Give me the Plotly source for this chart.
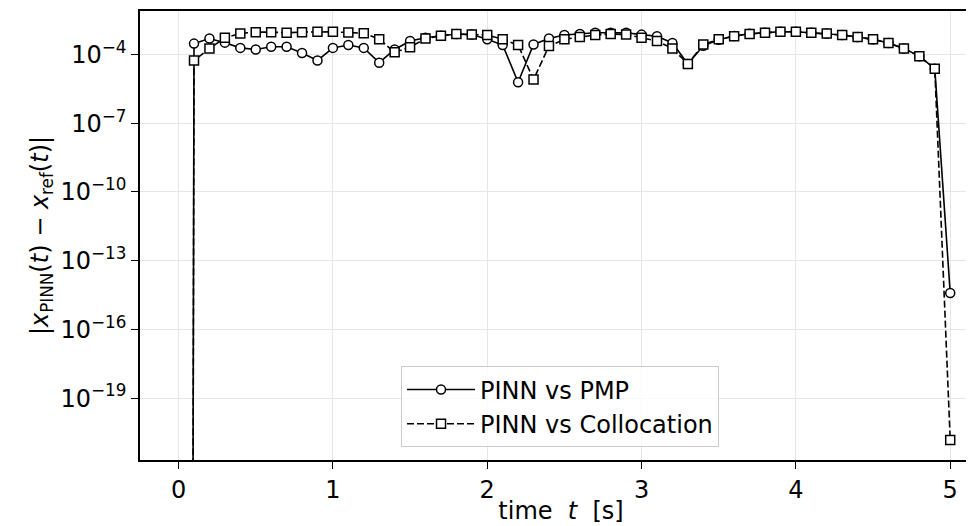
import numpy as np
import plotly.graph_objects as go

t = [round(0.1 * i, 1) for i in range(51)]

err_pmp = [0.0, 3.0e-4, 5.0e-4, 3.3e-4, 1.95e-4, 1.66e-4, 2.2e-4, 2.2e-4, 1.17e-4, 5.5e-5,
           1.95e-4, 2.6e-4, 1.95e-4, 4.4e-5, 1.66e-4, 3.9e-4, 5.4e-4, 6.6e-4, 7.9e-4, 7.4e-4,
           4.6e-4, 2.6e-4, 6.2e-6, 2.75e-4, 5.0e-4, 7.1e-4, 7.9e-4, 8.9e-4, 8.9e-4, 8.9e-4,
           7.4e-4, 6.3e-4, 3.2e-4, 3.9e-5, 2.4e-4, 4.4e-4, 6.4e-4, 8.0e-4, 9.0e-4, 9.8e-4,
           9.8e-4, 9.0e-4, 8.3e-4, 7.1e-4, 5.8e-4, 4.6e-4, 3.2e-4, 1.82e-4, 8.5e-5, 2.4e-5,
           3.9e-15]

err_col = [0.0, 5.5e-5, 1.82e-4, 5.4e-4, 8.3e-4, 9.5e-4, 9.5e-4, 8.9e-4, 9.5e-4, 9.8e-4,
           9.8e-4, 9.1e-4, 8.5e-4, 4.7e-4, 1.26e-4, 2.1e-4, 5.0e-4, 6.6e-4, 7.9e-4, 7.4e-4,
           7.1e-4, 4.6e-4, 2.6e-4, 8.1e-6, 2.35e-4, 4.6e-4, 5.75e-4, 7.1e-4, 7.9e-4, 7.4e-4,
           5.4e-4, 3.9e-4, 1.82e-4, 3.9e-5, 2.75e-4, 4.6e-4, 6.3e-4, 7.9e-4, 8.9e-4, 9.8e-4,
           9.8e-4, 8.9e-4, 8.3e-4, 7.1e-4, 5.75e-4, 4.6e-4, 3.2e-4, 1.82e-4, 8.5e-5, 2.4e-5,
           1.5e-21]

series_names = ["PINN vs PMP", "PINN vs Collocation"]
x_ticks = [0, 1, 2, 3, 4, 5]
y_tick_exps = [-19, -16, -13, -10, -7, -4]


def clip_nonpos(v):
    # like matplotlib's log-scale 'clip' for non-positive values
    a = np.asarray(v, dtype=float)
    return np.where(a > 0, a, 1e-300)


FONT = "DejaVu Sans"
fig = go.Figure()
fig.add_trace(go.Scatter(
    x=t, y=clip_nonpos(err_pmp), name=series_names[0], mode="lines+markers",
    line=dict(color="black", width=1.6),
    marker=dict(symbol="circle", size=9, color="white", line=dict(color="black", width=1.5)),
))
fig.add_trace(go.Scatter(
    x=t, y=clip_nonpos(err_col), name=series_names[1], mode="lines+markers",
    line=dict(color="black", width=1.6, dash="7px,3px"),
    marker=dict(symbol="square", size=9, color="white", line=dict(color="black", width=1.5)),
))

fig.update_layout(
    width=974, height=526,
    margin=dict(l=132, r=0, t=3, b=74),
    paper_bgcolor="white", plot_bgcolor="white",
    font=dict(family=FONT, size=24, color="black"),
    showlegend=True,
    legend=dict(
        x=0.31, y=0.028, xanchor="left", yanchor="bottom",
        xref="paper", yref="paper",
        bgcolor="rgba(255,255,255,0.8)", bordercolor="#cccccc", borderwidth=1,
        font=dict(family=FONT, size=24, color="black"),
        itemwidth=68,
    ),
)

fig.update_xaxes(
    range=[-0.25, 5.206],
    tickmode="array", tickvals=x_ticks, ticktext=[str(v) for v in x_ticks],
    showline=True, linecolor="black", linewidth=1.5, mirror=True,
    ticks="outside", ticklen=7, tickwidth=1.3, tickcolor="black",
    showgrid=True, gridcolor="#e6e6e6", gridwidth=1,
    zeroline=False,
    tickfont=dict(family=FONT, size=24, color="black"),
    title=dict(text="time  <i>t</i>  [s]", font=dict(family=FONT, size=24, color="black"), standoff=0),
)

fig.update_yaxes(
    type="log", range=[-21.70, -2.10],
    tickmode="array",
    tickvals=[10.0 ** e for e in y_tick_exps],
    ticktext=["10<sup>−%d</sup>" % (-e) for e in y_tick_exps],
    showline=True, linecolor="black", linewidth=1.5, mirror=False,
    ticks="outside", ticklen=7, tickwidth=1.3, tickcolor="black",
    showgrid=True, gridcolor="#e6e6e6", gridwidth=1,
    minor=dict(showgrid=False, ticks=""),
    zeroline=False,
    tickfont=dict(family=FONT, size=24, color="black"),
    title=dict(text="|<i>x</i><sub>PINN</sub>(<i>t</i>) − <i>x</i><sub>ref</sub>(<i>t</i>)|",
               font=dict(family=FONT, size=24, color="black"), standoff=5),
)

fig.write_html("out.html")
